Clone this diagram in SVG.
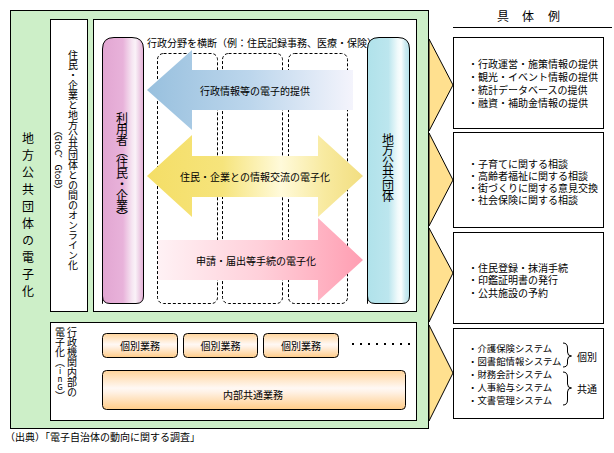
<svg xmlns="http://www.w3.org/2000/svg" width="614" height="453" viewBox="0 0 614 453">
<defs>
<linearGradient id="gPink" x1="0" y1="0" x2="1" y2="0">
<stop offset="0" stop-color="#E2A6D2"/><stop offset="0.5" stop-color="#E8B2DA"/><stop offset="0.72" stop-color="#F6E6F2"/><stop offset="0.8" stop-color="#FAF2F8"/><stop offset="0.9" stop-color="#EED0E6"/><stop offset="1" stop-color="#E4AED6"/>
</linearGradient>
<linearGradient id="gBlue" x1="0" y1="0" x2="1" y2="0">
<stop offset="0" stop-color="#B0E2EA"/><stop offset="0.5" stop-color="#BCE6EE"/><stop offset="0.72" stop-color="#F0FAFB"/><stop offset="0.8" stop-color="#FAFEFE"/><stop offset="0.9" stop-color="#CDEBF1"/><stop offset="1" stop-color="#B6E3EB"/>
</linearGradient>
<linearGradient id="gArrowBlue" gradientUnits="userSpaceOnUse" x1="147" y1="0" x2="353" y2="0">
<stop offset="0" stop-color="#98C0DE"/><stop offset="0.5" stop-color="#BCD6EC"/><stop offset="1" stop-color="#F4F4FC"/>
</linearGradient>
<linearGradient id="gArrowYellow" gradientUnits="userSpaceOnUse" x1="147" y1="0" x2="363" y2="0">
<stop offset="0" stop-color="#F4DE66"/><stop offset="0.35" stop-color="#F6E47C"/><stop offset="0.62" stop-color="#FFFADA"/><stop offset="0.82" stop-color="#F8EAA0"/><stop offset="1" stop-color="#F2DE80"/>
</linearGradient>
<linearGradient id="gArrowPink" gradientUnits="userSpaceOnUse" x1="157" y1="0" x2="363" y2="0">
<stop offset="0" stop-color="#FFF2F5"/><stop offset="0.5" stop-color="#FFD0DA"/><stop offset="1" stop-color="#FF9EB2"/>
</linearGradient>
<linearGradient id="gTask" x1="0" y1="0" x2="0" y2="1">
<stop offset="0" stop-color="#FFD49A"/><stop offset="0.45" stop-color="#FFF8F4"/><stop offset="0.55" stop-color="#FFF2E6"/><stop offset="1" stop-color="#FFCC88"/>
</linearGradient>
<style>
.t{font-family:"Noto Sans CJK JP","Liberation Sans",sans-serif;fill:#000;}
.s10{font-size:10px;}
.v{writing-mode:vertical-rl;}
.box{fill:#fff;stroke:#000;stroke-width:1;}
.dash{fill:none;stroke:#000;stroke-width:1;stroke-dasharray:3 2;}
.task{fill:url(#gTask);stroke:#000;stroke-width:1;}
.chev{fill:#FFE08F;stroke:#000;stroke-width:1;}
.br{fill:none;stroke:#000;stroke-width:1;}
</style>
</defs>
<rect width="614" height="453" fill="#fff"/>

<g id="outer">
<rect x="10.5" y="10.5" width="418" height="418" fill="#CDEFC8" stroke="#000"/>
<text class="t v" x="28" y="132" style="font-size:12px;letter-spacing:5px">地方公共団体の電子化</text>
</g>

<g id="online-label">
<rect class="box" x="50.5" y="19.5" width="37" height="292"/>
<text class="t v s10" x="73" y="160" text-anchor="middle">住民・企業と地方公共団体との間のオンライン化</text>
<text class="t v" x="58" y="160" text-anchor="middle" style="font-size:9px">（GtoC、GtoB）</text>
</g>

<g id="frame">
<rect class="box" x="93.5" y="19.5" width="323" height="292"/>
<text class="t s10" x="147" y="42" dominant-baseline="central">行政分野を横断（例：住民記録事務、医療・保険）</text>
<rect class="dash" x="157.5" y="53.5" width="60" height="250" rx="6"/>
<rect class="dash" x="222.5" y="53.5" width="60" height="250" rx="6"/>
<rect class="dash" x="288.5" y="53.5" width="59" height="250" rx="6"/>
</g>

<g id="user">
<path d="M102.5,303.5 V49 Q102.5,37.5 114,37.5 H132 Q143.5,37.5 143.5,49 V296 Q143.5,303.5 136,303.5 H110 Q102.5,303.5 102.5,296 Z" fill="url(#gPink)" stroke="#000"/>
<text class="t v" x="122" y="112" style="font-size:12px;letter-spacing:-1px">利用者（住民・企業）</text>
</g>

<g id="gov">
<path d="M367.5,303.5 V49 Q367.5,37.5 379,37.5 H398 Q409.5,37.5 409.5,49 V296 Q409.5,303.5 402,303.5 H375 Q367.5,303.5 367.5,296 Z" fill="url(#gBlue)" stroke="#000"/>
<text class="t v" x="388" y="133" style="font-size:12px;letter-spacing:-0.5px">地方公共団体</text>
</g>

<g id="connectors">
<polygon points="147,90 192,50 192,70 353,70 353,110 192,110 192,130" fill="url(#gArrowBlue)"/>
<text class="t s10" x="255" y="90" text-anchor="middle" dominant-baseline="central">行政情報等の電子的提供</text>
<polygon points="147,176 192,135 192,156 318,156 318,135 363,176 318,217 318,197 192,197 192,217" fill="url(#gArrowYellow)"/>
<text class="t s10" x="255" y="176" text-anchor="middle" dominant-baseline="central">住民・企業との情報交流の電子化</text>
<polygon points="158,240 318,240 318,218 363,260 318,301 318,280 158,280" fill="url(#gArrowPink)"/>
<text class="t s10" x="256" y="260" text-anchor="middle" dominant-baseline="central">申請・届出等手続の電子化</text>
<polygon class="chev" points="429,39 453,85 429,131"/>
<polygon class="chev" points="429,133 453,180 429,226"/>
<polygon class="chev" points="429,228 453,273 429,322"/>
<polygon class="chev" points="429,325 453,373 429,421"/>
</g>

<g id="internal">
<rect class="box" x="50.5" y="322.5" width="366" height="98"/>
<text class="t v s10" x="72" y="327">行政機関内部の</text>
<text class="t v s10" x="60" y="327">電子化（<tspan style="text-orientation:upright;font-size:8px">inG</tspan>）</text>
</g>

<g id="task1">
<rect class="task" x="102.5" y="333.5" width="75" height="24" rx="4"/>
<text class="t s10" x="140" y="345.5" text-anchor="middle" dominant-baseline="central">個別業務</text>
</g>
<g id="task2">
<rect class="task" x="183.5" y="333.5" width="74" height="24" rx="4"/>
<text class="t s10" x="220.5" y="345.5" text-anchor="middle" dominant-baseline="central">個別業務</text>
</g>
<g id="task3">
<rect class="task" x="263.5" y="333.5" width="75" height="24" rx="4"/>
<text class="t s10" x="301" y="345.5" text-anchor="middle" dominant-baseline="central">個別業務</text>
</g>
<g id="dots" fill="#000">
<rect x="352" y="343" width="2" height="2"/><rect x="360" y="343" width="2" height="2"/><rect x="368" y="343" width="2" height="2"/><rect x="376" y="343" width="2" height="2"/><rect x="384" y="343" width="2" height="2"/><rect x="392" y="343" width="2" height="2"/><rect x="400" y="343" width="2" height="2"/><rect x="408" y="343" width="2" height="2"/>
</g>
<g id="common">
<rect class="task" x="102.5" y="370.5" width="303" height="39" rx="4"/>
<text class="t s10" x="253" y="394" text-anchor="middle" dominant-baseline="central">内部共通業務</text>
</g>

<g id="header">
<text class="t" y="15" dominant-baseline="central" text-anchor="middle" style="font-size:12px"><tspan x="503">具</tspan><tspan x="528">体</tspan><tspan x="554">例</tspan></text>
<line x1="453" y1="27.5" x2="612" y2="27.5" stroke="#000"/>
</g>

<g id="ex1">
<rect class="box" x="453.5" y="37.5" width="150" height="91"/>
<text class="t s10" dominant-baseline="central"><tspan x="468" y="63">・行政運営・施策情報の提供</tspan><tspan x="468" y="76">・観光・イベント情報の提供</tspan><tspan x="468" y="89">・統計データベースの提供</tspan><tspan x="468" y="102">・融資・補助金情報の提供</tspan></text>
</g>
<g id="ex2">
<rect class="box" x="453.5" y="132.5" width="150" height="95"/>
<text class="t s10" dominant-baseline="central"><tspan x="468" y="163">・子育てに関する相談</tspan><tspan x="468" y="175">・高齢者福祉に関する相談</tspan><tspan x="468" y="187">・街づくりに関する意見交換</tspan><tspan x="468" y="199">・社会保険に関する相談</tspan></text>
</g>
<g id="ex3">
<rect class="box" x="453.5" y="232.5" width="150" height="91"/>
<text class="t s10" dominant-baseline="central"><tspan x="468" y="267">・住民登録・抹消手続</tspan><tspan x="468" y="279">・印鑑証明書の発行</tspan><tspan x="468" y="292">・公共施設の予約</tspan></text>
</g>
<g id="ex4">
<rect class="box" x="453.5" y="328.5" width="150" height="90"/>
<text class="t" dominant-baseline="central" style="font-size:9.4px"><tspan x="468" y="348">・介護保険システム</tspan><tspan x="468" y="361">・図書館情報システム</tspan><tspan x="468" y="374">・財務会計システム</tspan><tspan x="468" y="387">・人事給与システム</tspan><tspan x="468" y="400">・文書管理システム</tspan></text>
<path class="br" d="M563,343 Q567.5,343 567.5,348 L567.5,352 Q567.5,356 571.5,356 Q567.5,356 567.5,360 L567.5,363 Q567.5,367 563,367"/>
<path class="br" d="M563,372 Q567.5,372 567.5,377 L567.5,384 Q567.5,388 571.5,388 Q567.5,388 567.5,392 L567.5,400 Q567.5,405 563,405"/>
<text class="t s10" x="587" y="356" text-anchor="middle" dominant-baseline="central">個別</text>
<text class="t s10" x="587" y="388" text-anchor="middle" dominant-baseline="central">共通</text>
</g>

<text class="t s10" x="5" y="436" dominant-baseline="central">（出典）「電子自治体の動向に関する調査」</text>
</svg>
